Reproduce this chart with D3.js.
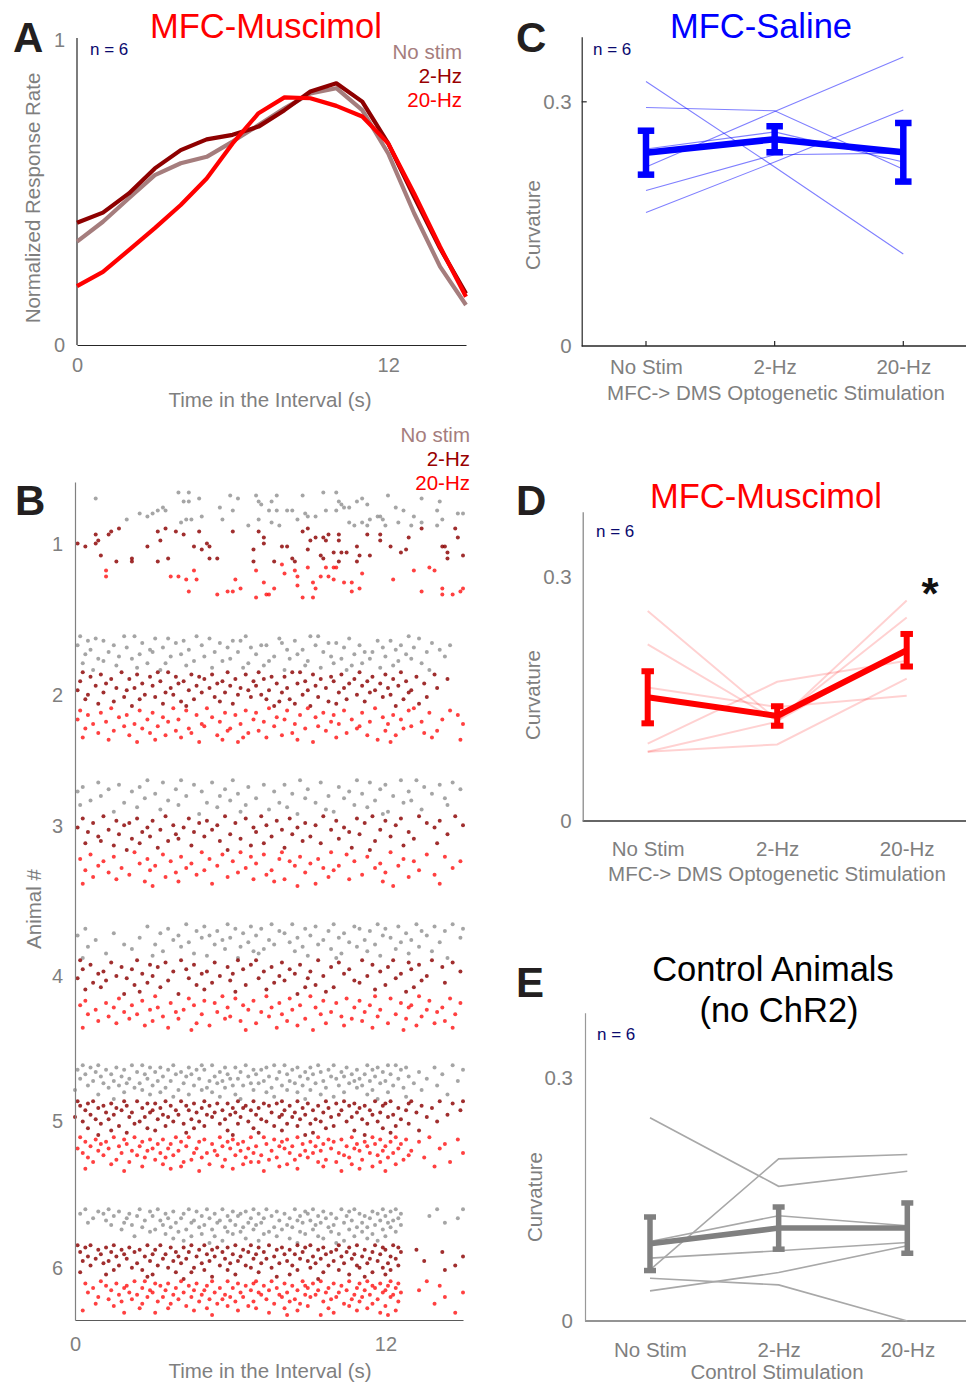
<!DOCTYPE html>
<html><head><meta charset="utf-8">
<script src="https://cdn.jsdelivr.net/npm/d3@7"></script>
<style>
body{margin:0;background:#fff}
svg{display:block}
text{font-family:"Liberation Sans",Arial,Helvetica,sans-serif}
</style>
</head><body>
<svg id="c" width="967" height="1384"></svg>
<script>
// ---------------- DATA ----------------
// Panel A: normalized response rate per 1-s bin
const timeBins = [0,1,2,3,4,5,6,7,8,9,10,11,12,13,14,15];
const rateNoStim = [0.339,0.404,0.481,0.557,0.596,0.617,0.667,0.721,0.776,0.825,0.842,0.770,0.628,0.432,0.257,0.131];
const rate2Hz    = [0.401,0.434,0.497,0.579,0.639,0.674,0.689,0.716,0.770,0.831,0.858,0.798,0.661,0.486,0.317,0.169];
const rate20Hz   = [0.193,0.240,0.311,0.383,0.459,0.546,0.661,0.760,0.812,0.809,0.784,0.749,0.661,0.497,0.322,0.158];
const legendLabels = ["No stim","2-Hz","20-Hz"];
const timeTicks = [0,12];

// Panels C-E: curvature
const conditions = ["No Stim","2-Hz","20-Hz"];
const curvTicks = [0,0.3];
const salineIndiv = [
  [0.325,0.220,0.113],
  [0.293,0.289,0.217],
  [0.220,0.288,0.355],
  [0.242,0.263,0.226],
  [0.191,0.235,0.237],
  [0.164,0.226,0.290]];
const salineMean = [0.2375,0.254,0.238];
const salineSem  = [0.027,0.016,0.036];

const muscimolIndiv = [
  [0.258,0.124,0.250],
  [0.217,0.123,0.212],
  [0.164,0.140,0.154],
  [0.095,0.171,0.197],
  [0.085,0.094,0.175],
  [0.085,0.122,0.271]];
const muscimolMean = [0.152,0.129,0.2098];
const muscimolSem  = [0.032,0.012,0.020];

const controlIndiv = [
  [0.2505,0.166,0.1846],
  [0.063,0.1998,0.2052],
  [0.098,0.1298,0.1174],
  [0.0775,0.0865,0.0968],
  [0.0371,0.0597,0.0927],
  [0.0527,0.0445,0.0]];
const controlMean = [0.0952,0.1145,0.1145];
const controlSem  = [0.033,0.026,0.031];

// Panel B: raster. Row units; each animal block = 3 conditions x 12 row units
const animalLabels = ["1","2","3","4","5","6"];
const animalLabelRow = [20.7,71,114.7,164.7,213,262];
const animalRowOffset = [3,51,99,147,194,242];
const rowsPerCondition = 12;
const totalRows = 279.33;

// response times (s) per animal, per trial
const rasterNoStim = [
 [[4.0,4.4,9.6,10.1],[6.0,7.0,7.8,8.8,12.1],[0.8,4.8,6.3,11.1,13.4],[4.2,4.4,7.1,7.6,10.2,10.9,14.1],[7.2,10.3,11.3],[3.4,5.6,10.4,10.6,12.4],[3.2,3.5,6.1,7.5,7.8,8.2,8.4,9.7,10.1,12.7,14.0],[2.5,3.0,8.9,14.8,15.0],[2.8,4.9,9.0,9.3,11.7,11.8,13.1],[2.0,4.3,4.5,5.7,7.1,8.6,11.4,11.9,14.2],[4.1,7.6,10.6,11.1,12.5,13.4],[6.7,7.9,10.8,11.3,12.0,13.0,14.0]],
 [[0.2,1.9,2.3,4.7,6.6,9.1,9.4,12.9],[0.8,3.1,3.6,5.2,7.9,10.6,13.3],[0.5,1.1,4.2,6.1,6.4,8.5,11.7,12.2],[2.6,3.9,5.6,8.0,9.8,10.1,13.8],[0.1,1.5,4.9,7.2,7.4,9.3,11.0,12.6,14.5],[2.0,3.4,5.9,6.8,10.4,11.9,13.1],[0.6,2.9,4.4,8.2,8.8,12.4,14.1],[1.3,3.0,5.4,6.3,9.6,11.2,11.5,13.6],[0.4,2.5,4.1,7.0,8.6,10.8,12.8],[1.7,3.7,5.0,7.7,9.9,12.0,14.3],[0.9,2.2,6.0,8.3,10.3,11.4,13.0],[1.1,4.6,5.7,7.5,9.0,12.5],[0.3,2.8,3.5,6.7,10.0,11.1,13.4],[1.6,4.3,7.3,8.9,10.7,12.3],[2.4,5.3,6.5,9.5,11.8],[0.7,3.3,8.1,10.5,13.7]],
 [[2.8,4.1,6.1,8.7,10.9,12.6,13.2],[0.9,3.4,5.3,9.5,11.4,14.6],[1.7,4.6,7.3,8.1,12.0,14.1],[0.3,2.5,6.7,10.2,13.5],[1.3,3.9,5.8,9.0,11.8,14.9],[0.1,2.2,4.9,7.7,10.6,12.9],[3.1,6.3,8.4,11.1,13.8],[1.0,4.3,5.6,9.8,12.3],[2.7,7.0,8.9,10.4,14.3],[0.6,3.6,6.0,11.6,13.0],[1.9,5.1,7.9,9.3,12.7],[0.2,4.0,6.6,10.8,14.4],[2.4,5.5,8.2,11.3],[3.3,7.5,9.7,13.4],[1.5,6.4,10.0,12.1],[4.8,8.6,11.9]],
 [[4.3,5.9,7.6,8.4,10.0,11.7,13.2,14.6],[2.8,5.0,6.8,9.3,10.8,12.5,13.9],[0.4,3.6,6.2,7.2,8.9,11.0,12.0,15.0],[4.7,5.5,7.9,9.8,11.4,13.4,14.3],[1.5,3.3,6.5,8.1,10.4,12.8],[0.1,4.0,5.2,7.0,9.1,11.9,13.6],[2.5,4.9,6.0,8.6,10.2,12.2,14.9],[0.8,3.8,5.7,7.5,9.6,11.2,13.0],[4.4,6.7,8.3,10.6,12.6,14.1],[1.9,3.1,5.4,7.7,9.4,11.6],[0.5,4.1,6.4,8.8,10.9,13.3],[2.2,5.8,7.3,9.9,12.4],[3.4,6.9,8.5,11.3,13.8],[1.2,4.6,7.1,10.3,12.9],[3.0,5.1,9.0,11.8],[0.3,6.3,10.1,14.4]],
 [[0.3,0.9,2.2,2.6,3.8,4.9,5.3,6.6,7.7,8.1,9.4,10.0,11.3,12.1,12.4,14.6],[0.6,1.6,2.9,3.3,4.4,5.8,6.2,7.4,8.6,9.1,10.5,11.7,12.8,13.9],[0.1,1.2,1.9,3.6,4.7,5.0,6.9,7.2,8.4,9.8,10.9,11.5,12.6,15.0],[0.8,2.4,3.1,4.1,5.6,6.4,7.9,8.9,9.5,10.3,11.9,13.3],[0.4,1.4,2.7,3.9,4.5,5.9,7.0,8.2,9.2,10.7,11.2,12.2,14.2],[1.0,1.8,3.4,4.3,5.4,6.7,7.5,8.7,9.9,10.4,11.6,12.9],[0.2,2.1,2.8,4.8,6.0,6.3,7.8,9.0,10.1,11.0,12.5,13.6],[0.7,1.5,3.2,3.7,5.2,5.7,7.3,8.3,9.6,10.8,11.4,12.0,14.8],[1.1,2.0,2.5,4.2,5.5,6.8,7.1,8.5,9.3,10.6,11.8,13.1],[0.5,1.7,3.0,4.6,6.1,6.5,8.0,8.8,10.2,11.1,12.3,14.0],[1.3,2.3,3.5,5.1,5.8,7.6,9.7,10.9,12.7],[0.0,2.6,4.0,4.9,6.9,8.2,9.1,11.5,13.4],[1.9,3.3,5.3,7.4,8.6,10.4,12.1],[0.9,2.9,4.4,6.2,9.5,11.3,14.4],[3.8,5.6,7.7,10.0,12.8],[1.5,6.4,8.9,11.7]],
 [[0.4,1.3,2.5,3.2,4.4,5.1,5.7,6.9,7.4,8.5,9.2,10.3,10.8,11.9,12.4,14.0,15.0],[0.9,1.7,2.9,3.8,4.7,6.1,6.6,7.8,8.9,9.6,10.6,11.5,12.2],[0.2,1.1,2.1,3.5,4.2,5.4,6.4,7.1,8.1,9.0,9.9,11.0,11.7,12.6],[1.5,2.4,3.0,4.9,5.9,6.3,7.6,8.7,9.4,10.5,11.2,12.0,13.7],[0.7,2.0,3.6,4.1,5.2,6.8,7.3,8.3,9.7,10.1,11.4,12.5,14.8],[1.2,2.7,3.3,4.6,5.6,6.0,7.9,8.6,9.1,10.7,11.8,12.3],[0.5,1.9,3.9,4.5,5.5,6.7,7.2,8.8,9.5,10.4,11.1,12.1,14.3],[1.4,2.2,3.4,5.0,6.2,7.0,8.2,9.3,10.0,11.6,12.6],[2.6,3.7,4.8,5.8,6.5,7.7,8.4,9.8,10.9,11.3,12.2],[1.8,3.1,4.3,5.3,6.9,8.0,9.2,10.6,11.9],[2.9,4.0,5.9,6.4,7.5,8.7,9.9,11.1,12.4],[3.5,4.9,6.1,7.3,8.9,10.2,11.5],[2.3,4.5,5.4,7.8,9.4,10.8,12.0],[3.8,6.6,8.3,9.6,11.3],[4.2,5.7,7.1,10.4,11.7],[5.2,8.6,10.1]]
];
const raster2Hz = [
 [[1.7,3.5,9.0,13.4,14.7],[1.4,3.2,3.9,4.8,6.1,7.1,8.8],[0.8,1.3,4.2,9.8,10.2,11.3,11.8],[7.3,9.3,9.6,12.9,14.8],[0.9,3.3,9.1,9.7,10.2,11.8],[0.1,0.8,5.1,7.3],[0.4,2.8,4.6,5.2,8.0,8.2,10.9,12.2,14.2,14.3],[4.9,6.9,9.0,12.8],[10.0,10.3,10.5,12.6,14.4],[1.0,9.5,11.0,11.4,15.0],[2.2,3.6,5.2,5.5,8.4,9.6,14.4],[1.6,2.2,3.2,6.9,7.7,8.5,10.2,10.9]],
 [[0.3,1.8,3.2,3.6,5.9,7.1,8.4,8.7,11.0,12.6],[1.0,2.4,4.5,5.3,6.6,9.2,10.3,12.0,13.9],[0.6,2.9,3.9,4.8,7.6,8.1,9.9,11.5,13.2],[1.4,2.1,5.0,6.2,7.3,9.5,10.8,12.3,14.4],[0.2,3.3,4.2,5.7,6.9,8.9,10.0,11.3,12.8],[1.2,2.6,4.0,5.5,7.8,8.6,10.6,11.8,13.5],[0.8,3.0,4.7,6.0,7.0,9.3,11.1,12.5],[1.6,2.3,3.7,5.2,6.4,8.2,9.7,10.4,12.1,14.0],[0.1,2.0,4.4,6.7,7.5,9.0,11.6,13.0],[1.1,3.5,4.9,5.8,8.0,10.2,11.4,12.9],[0.5,2.7,3.8,6.3,7.2,8.8,10.9,12.2],[1.9,3.1,5.4,6.8,9.4,11.9,13.6],[0.4,2.5,4.6,7.4,8.3,10.5,12.7],[1.5,4.1,5.6,7.9,9.8,11.2],[0.9,3.4,6.1,8.5,10.1,13.3],[2.2,4.3,7.7,9.1,12.4]],
 [[1.1,3.5,5.8,7.2,9.6,11.5,13.3,14.7],[0.3,2.4,4.4,6.6,8.3,10.9,12.6],[1.6,3.0,5.1,7.8,10.1,12.0,14.1],[0.7,2.1,4.8,6.2,8.9,11.2,13.6],[1.9,3.8,5.5,7.4,9.3,12.4,15.0],[0.1,2.8,4.2,6.9,8.6,10.4,13.9],[1.3,3.3,5.3,8.0,9.9,11.8],[0.5,2.6,4.6,7.0,10.6,12.9],[1.7,3.9,6.0,8.4,11.0,14.4],[0.9,2.9,5.0,7.6,9.1,12.2],[2.2,4.0,6.4,10.2,13.1],[1.0,3.6,5.6,8.8,11.6],[0.4,2.5,7.3,9.5,14.0],[1.5,4.5,6.8,12.7],[3.2,8.1,10.7],[2.0,5.9,11.4]],
 [[0.2,2.4,4.1,6.3,7.0,9.4,11.1,12.3,13.8],[1.4,3.5,5.4,8.0,10.2,12.9,14.6],[0.6,2.9,4.6,6.8,8.7,11.5,13.3],[1.8,3.2,5.9,7.6,9.9,12.1,14.2],[0.3,2.2,4.3,6.5,8.3,10.6,13.0],[1.1,3.8,5.1,7.3,9.1,11.8,14.9],[0.9,2.6,4.9,6.1,8.5,10.4,12.6],[1.6,3.0,5.6,7.9,9.6,11.3,13.6],[0.1,2.0,4.4,7.1,9.0,12.4],[1.2,3.6,6.0,8.1,10.8,13.4],[0.7,2.8,5.3,7.7,11.0,14.3],[2.3,4.7,6.6,9.3,12.0],[1.0,3.3,8.9,10.0,13.1],[0.4,5.0,7.4,11.6],[2.5,6.2,9.7,12.8],[1.9,4.0,8.6]],
 [[0.1,0.7,1.9,2.4,3.5,4.1,5.0,6.3,6.9,8.0,8.6,9.7,10.4,11.6,12.2,13.0,14.1,15.0],[0.5,1.4,2.8,3.1,4.6,5.5,5.9,7.3,7.8,9.0,10.1,10.8,12.0,12.9,14.6],[0.2,1.1,2.0,3.7,4.3,5.2,6.6,7.5,8.3,9.4,10.6,11.2,11.9,13.4],[0.9,1.6,2.6,3.3,4.9,6.1,6.5,7.1,8.8,9.8,11.0,12.5,13.8],[0.4,1.8,3.0,3.9,4.4,5.7,6.8,8.1,9.2,10.3,11.4,12.8,14.9],[1.2,2.2,2.9,4.7,5.4,6.2,7.6,8.5,9.6,10.9,11.8,13.2],[0.6,1.5,3.4,4.0,5.1,6.0,7.0,8.0,8.9,10.2,11.5,12.3,14.4],[0.0,2.1,2.7,3.6,5.3,6.4,7.9,8.4,9.9,10.7,12.1,13.6],[0.8,1.3,3.2,4.5,5.8,7.2,8.7,9.3,11.1,12.6],[0.3,2.5,3.8,4.8,6.7,7.4,9.5,10.5,11.7,14.0],[1.0,2.3,4.2,5.6,6.3,8.2,9.1,11.3,12.9],[1.7,3.5,5.0,7.7,8.6,10.0,12.4],[0.5,2.8,4.6,6.9,9.7,11.9],[1.4,3.1,5.9,8.0,10.8,13.3],[2.0,4.3,7.1,9.2,12.2],[0.9,6.1,8.9,11.2]],
 [[0.1,0.6,1.5,2.8,3.3,4.5,5.0,6.2,6.8,7.5,8.6,9.1,10.2,10.9,11.6,12.3],[0.4,1.2,2.1,3.7,4.2,5.5,5.9,7.1,8.0,8.9,9.6,10.6,11.9,12.5],[0.9,1.8,2.5,3.1,4.8,5.3,6.5,7.8,8.3,9.4,10.1,11.2,12.0,13.2],[0.2,1.4,2.3,3.9,4.4,5.7,6.7,7.3,8.8,9.9,10.5,11.5,12.6,14.2],[1.0,1.9,3.0,3.5,5.1,6.1,7.0,8.1,8.5,9.7,10.8,11.8],[0.5,1.6,2.7,4.0,4.7,5.4,6.4,7.7,9.2,10.3,11.1,12.2,15.0],[0.8,2.0,3.4,4.3,5.8,6.9,7.4,8.7,9.5,10.7,11.4,12.4],[0.3,1.3,2.9,3.8,5.2,6.3,8.2,9.0,10.0,11.7,13.5],[1.1,2.4,4.1,4.9,6.0,7.2,7.9,9.3,10.4,11.3,12.1],[0.6,1.7,3.2,5.6,6.6,8.4,9.8,10.9,12.5,14.7],[2.2,3.6,4.6,6.8,7.6,9.1,11.0,11.9],[1.5,2.6,5.0,5.9,8.6,10.2,12.2,14.3],[0.2,3.9,4.5,7.1,9.6,11.5],[1.2,3.0,6.2,8.3,10.6,12.0],[2.8,5.3,7.8,11.2],[4.2,9.4]]
];
const raster20Hz = [
 [[8.0],[9.0,9.7,10.0,10.1,13.7],[1.2,4.6,7.0,8.5,13.1,13.9],[8.1,11.1],[1.2,3.7,4.0,8.6,9.5,9.8],[4.3,4.7,6.2,10.0,12.3],[7.3,9.2,10.4,10.7],[8.6],[6.4,7.7,9.3,11.0,14.2,15.0],[4.4,5.9,6.1,10.7,13.4,14.9],[5.5,7.4,7.5,14.2,14.6],[7.0,8.8,9.2]],
 [[1.4,3.8,5.1,7.5,9.0,11.6,13.1],[0.2,2.5,4.3,6.6,8.2,10.4,12.9,14.5],[1.0,3.0,5.8,7.0,9.6,11.1,13.7],[0.5,2.0,4.7,6.2,8.7,10.0,12.3,14.8],[1.7,3.4,5.3,7.8,9.3,11.9],[0.1,2.8,4.0,6.9,8.1,10.7,12.6,14.2],[1.2,3.6,5.6,7.3,9.9,11.4,13.4],[0.7,2.3,4.9,6.4,8.5,10.2,12.1,15.0],[1.9,3.2,5.0,7.7,9.4,11.0,13.0],[0.4,2.6,4.4,6.0,8.9,10.9,12.7],[1.5,3.9,5.9,7.1,9.7,12.0,14.0],[0.9,2.9,4.5,6.7,8.4,10.5,13.5],[2.1,3.5,5.5,8.0,11.3,12.4],[0.3,4.1,6.5,7.4,10.1,13.8],[1.3,3.1,5.7,8.6,11.7,14.9],[2.4,4.8,6.3,9.2,12.2]],
 [[2.3,4.9,6.4,8.0,9.9,12.2],[0.6,3.4,5.7,7.3,10.5,13.6],[1.5,4.1,6.8,8.7,11.3,14.3],[0.2,2.8,5.2,7.9,9.4,12.7],[1.1,3.7,6.1,8.3,10.8,13.1,14.9],[2.5,4.5,7.0,9.1,11.8],[0.9,3.1,5.5,8.5,10.2,12.5],[1.8,4.3,6.6,9.6,11.6,14.6],[0.4,2.9,5.0,7.6,10.0,13.3],[1.3,3.9,6.3,8.9,12.0],[2.1,4.7,7.4,11.1,13.9],[0.7,3.5,5.9,9.8,12.9],[1.6,6.9,8.1,10.6],[2.7,4.0,7.7,11.9],[0.3,5.3,9.3,14.1],[3.0,8.6,12.3]],
 [[3.1,5.7,7.4,9.1,11.6,13.3],[1.7,4.4,6.2,8.3,10.5,12.2,14.5],[0.4,2.6,5.0,6.9,9.6,11.0,13.7],[1.2,3.7,5.4,7.9,10.1,12.6,14.9],[0.2,2.2,4.6,6.5,8.7,11.4,13.0],[1.5,3.2,5.9,7.6,9.3,10.8,12.9,14.2],[0.8,2.9,4.2,6.7,8.4,11.8,13.6],[1.9,3.9,5.5,7.2,9.9,11.2,14.0],[0.5,2.4,4.9,8.0,9.5,12.4,14.7],[1.3,3.4,6.0,7.5,10.3,11.7,13.4],[2.1,4.0,5.8,8.9,10.7,12.8],[0.9,3.0,6.4,8.2,11.1,14.3],[1.6,4.7,7.0,9.7,12.1,13.9],[2.7,5.2,8.6,10.4,13.2],[0.3,3.6,7.8,11.5,14.6],[4.5,6.6,9.2,12.7]],
 [[0.2,1.5,2.3,3.9,4.4,5.6,6.8,7.3,8.6,9.4,10.7,11.5,12.4,13.7],[0.8,1.9,2.9,3.4,5.0,6.1,7.7,8.2,9.8,10.3,11.8,12.8,14.8],[0.4,1.2,2.6,4.1,4.8,5.9,6.5,8.0,9.1,10.0,11.2,12.2,13.3],[1.0,2.0,3.2,3.7,5.3,6.3,7.4,8.8,9.6,10.9,11.6,12.6,14.3],[0.6,1.7,2.5,4.3,5.7,7.0,7.9,8.4,9.3,10.5,11.3,12.0],[0.1,1.3,3.0,3.6,4.7,6.0,6.7,8.1,9.9,10.8,12.5,14.1],[0.9,2.2,2.8,4.0,5.4,6.4,7.6,8.9,9.5,11.0,11.9,13.0],[0.3,1.8,3.3,4.6,5.1,6.9,8.3,9.2,10.2,11.4,12.3,15.0],[1.1,2.4,3.8,5.5,6.2,7.2,8.7,10.4,11.7,12.9],[0.5,2.7,3.5,4.9,6.6,7.8,9.0,10.6,12.1,13.5],[1.6,3.1,4.5,5.8,7.5,8.5,9.7,11.1,12.7],[0.7,2.1,4.2,6.8,7.1,9.4,10.1,11.8,14.5],[1.4,3.4,5.2,6.5,8.2,10.7,12.4],[2.6,4.1,5.7,7.9,9.6,11.5,13.9],[0.4,3.7,6.1,8.6,11.0],[1.9,4.8,7.3,10.3,12.0]],
 [[1.0,2.3,2.7,4.1,5.3,5.9,7.0,7.6,8.8,9.5,10.6,11.3,12.2,13.6],[0.4,1.6,3.1,3.6,4.7,6.3,6.9,8.1,9.2,10.0,11.0,11.8,12.5],[1.2,2.0,3.3,4.4,5.1,6.6,7.3,8.4,8.9,10.3,11.5,12.1,14.1],[0.7,1.9,2.6,3.9,5.6,6.1,7.8,9.0,9.8,10.9,11.6,12.4],[1.4,2.9,3.5,4.6,5.0,6.8,7.5,8.6,9.4,10.5,11.2,12.0,13.3],[0.5,2.1,3.0,4.2,5.4,6.4,7.1,8.2,9.7,10.2,11.9,12.6,15.0],[1.7,2.4,3.8,4.9,5.8,7.2,7.9,8.9,9.3,10.8,11.4,12.3],[0.9,2.8,3.4,4.5,6.0,6.5,8.0,9.1,10.1,11.1,12.2,14.3],[1.3,2.2,4.0,5.2,5.7,7.4,8.5,9.9,10.7,11.7],[1.8,3.2,4.8,6.2,6.9,8.3,9.6,11.0,12.5],[0.8,2.6,3.7,5.5,7.7,8.7,10.4,11.5,13.9],[1.5,4.3,5.9,6.7,9.0,10.6,12.0],[2.5,3.6,5.1,7.0,8.1,9.8,11.3],[0.3,4.6,6.3,8.6,10.9,12.4],[1.9,3.1,7.5,10.0,11.8,14.7],[5.3,8.2,9.5,12.1]]
];
const rasterByCondition = [rasterNoStim, raster2Hz, raster20Hz];

// ---------------- DRAW ----------------
const svg = d3.select("#c");
const TICKGRAY = "#7f7f7f";
const NAVY = "#0a0a6e";

function styleAxis(g, lineColor, fontSize) {
  g.attr("font-family", null).attr("font-size", null);
  g.select(".domain").attr("stroke", lineColor).attr("stroke-width", 1.2);
  g.selectAll(".tick line").remove();
  g.selectAll(".tick text").attr("fill", TICKGRAY).style("font-size", fontSize + "px");
}
function addText(x, y, str, opt) {
  const t = svg.append("text").attr("x", x).attr("y", y).text(str)
    .style("font-size", (opt.size || 20) + "px")
    .attr("fill", opt.color || TICKGRAY)
    .attr("text-anchor", opt.anchor || "middle");
  if (opt.weight) t.style("font-weight", opt.weight);
  return t;
}
function addVText(x, y, str, size) {
  svg.append("text").attr("transform", `translate(${x},${y}) rotate(-90)`)
    .attr("text-anchor", "middle").attr("fill", TICKGRAY)
    .style("font-size", size + "px").text(str);
}

// ===== Panel A =====
const xA = d3.scaleLinear().domain([0, 15]).range([77, 466]);
const yA = d3.scaleLinear().domain([0, 1]).range([345, 40]);
const gAx = svg.append("g").attr("transform", "translate(0,345)")
  .call(d3.axisBottom(xA).tickValues(timeTicks).tickSize(0).tickSizeOuter(0).tickPadding(13));
styleAxis(gAx, "#262626", 20);
const gAy = svg.append("g").attr("transform", "translate(77,0)")
  .call(d3.axisLeft(yA).tickValues([0, 1]).tickFormat(d3.format("d")).tickSize(0).tickSizeOuter(0).tickPadding(12));
styleAxis(gAy, "#262626", 20);
gAy.select(".domain").attr("d", `M0,${yA(0)}V38`);

const seriesA = [
  {values: rateNoStim, color: "#a57d7d"},
  {values: rate2Hz, color: "#8e0000"},
  {values: rate20Hz, color: "#ff0000"}
];
const lineA = d3.line().x((d, i) => xA(timeBins[i])).y(d => yA(d));
svg.append("g").selectAll("path").data(seriesA).join("path")
  .attr("d", d => lineA(d.values)).attr("fill", "none")
  .attr("stroke", d => d.color).attr("stroke-width", 4.2)
  .attr("stroke-linejoin", "round");
const legendColors = ["#a57d7d", "#990000", "#ff0000"];
legendLabels.forEach((l, i) => addText(462, 59 + 24 * i, l, {size: 20.5, color: legendColors[i], anchor: "end"}));
addText(90, 55, "n = 6", {size: 17, color: NAVY, anchor: "start"});
addText(266, 38, "MFC-Muscimol", {size: 34.5, color: "#ff0000"});
addVText(40, 198, "Normalized Response Rate", 20.5);
addText(270, 407, "Time in the Interval (s)", {size: 20.5});
addText(13, 52, "A", {size: 42, color: "#231f20", anchor: "start", weight: "bold"});

// ===== Panel B =====
const xB = d3.scaleLinear().domain([0, 15]).range([75, 463]);
const yB = d3.scaleLinear().domain([0, totalRows]).range([482, 1320]);
const dotColors = ["#959595", "#8b0000", "#ff1010"];
const dotOpacity = [0.85, 0.82, 0.8];
const dots = [];
rasterByCondition.forEach((byAnimal, ci) => {
  byAnimal.forEach((rows, ai) => {
    const step = rowsPerCondition / rows.length;
    rows.forEach((times, ri) => {
      times.forEach(t => dots.push({t, row: animalRowOffset[ai] + ci * rowsPerCondition + (ri + 0.5) * step, ci}));
    });
  });
});
svg.append("g").selectAll("circle").data(dots).join("circle")
  .attr("cx", d => xB(d.t)).attr("cy", d => yB(d.row)).attr("r", 2.0)
  .attr("fill", d => dotColors[d.ci]).attr("fill-opacity", d => dotOpacity[d.ci]);

const gBx = svg.append("g").attr("transform", "translate(0,1320)")
  .call(d3.axisBottom(xB).tickValues(timeTicks).tickSize(0).tickSizeOuter(0).tickPadding(17));
styleAxis(gBx, "#5a5a5a", 20);
const gBy = svg.append("g").attr("transform", "translate(75,0)")
  .call(d3.axisLeft(yB).tickValues(animalLabelRow).tickFormat((d, i) => animalLabels[i])
    .tickSize(0).tickSizeOuter(0).tickPadding(12));
styleAxis(gBy, "#808080", 20);
legendLabels.forEach((l, i) => addText(470, 442 + 24 * i, l, {size: 20.5, color: legendColors[i], anchor: "end"}));
addVText(41, 909, "Animal #", 20.5);
addText(270, 1378, "Time in the Interval (s)", {size: 20.5});
addText(15, 515, "B", {size: 42, color: "#231f20", anchor: "start", weight: "bold"});

// ===== Curvature panels =====
function curvPanel(cfg) {
  const xs = d3.scalePoint().domain(conditions).range(cfg.xr);
  const ys = d3.scaleLinear().domain([0, 0.38]).range([cfg.y0, cfg.y1]);
  svg.append("line").attr("x1", cfg.ax).attr("x2", 966).attr("y1", ys(0)).attr("y2", ys(0))
    .attr("stroke", cfg.xLineColor).attr("stroke-width", 1.3);
  const gy = svg.append("g").attr("transform", `translate(${cfg.ax},0)`)
    .call(d3.axisLeft(ys).tickValues(curvTicks).tickFormat(d => d === 0 ? "0" : "0.3")
      .tickSize(0).tickSizeOuter(0).tickPadding(cfg.yPad));
  styleAxis(gy, cfg.yLineColor, 20.5);
  const gx = svg.append("g").attr("transform", `translate(0,${ys(0)})`)
    .call(d3.axisBottom(xs).tickSize(0).tickSizeOuter(0).tickPadding(cfg.xPad));
  styleAxis(gx, "none", 20.5);
  gx.select(".domain").remove();
  if (cfg.innerTicks) {
    svg.append("g").selectAll("line").data(conditions).join("line")
      .attr("x1", d => xs(d)).attr("x2", d => xs(d)).attr("y1", ys(0)).attr("y2", ys(0) - 5)
      .attr("stroke", cfg.xLineColor).attr("stroke-width", 1.2);
    svg.append("line").attr("x1", cfg.ax).attr("x2", cfg.ax + 5).attr("y1", ys(0.3)).attr("y2", ys(0.3))
      .attr("stroke", cfg.xLineColor).attr("stroke-width", 1.2);
  }
  const line = d3.line().x((d, i) => xs(conditions[i])).y(d => ys(d));
  svg.append("g").selectAll("path").data(cfg.indiv).join("path")
    .attr("d", d => line(d)).attr("fill", "none")
    .attr("stroke", cfg.thinColor).attr("stroke-opacity", cfg.thinOpacity)
    .attr("stroke-width", cfg.thinWidth);
  svg.append("path").attr("d", line(cfg.mean)).attr("fill", "none")
    .attr("stroke", cfg.color).attr("stroke-width", cfg.meanWidth).attr("stroke-linejoin", "round");
  const eb = svg.append("g").attr("stroke", cfg.color).attr("stroke-width", cfg.ebWidth);
  cfg.mean.forEach((m, i) => {
    const x = xs(conditions[i]);
    const lo = ys(m - cfg.sem[i]), hi = ys(m + cfg.sem[i]);
    eb.append("line").attr("x1", x).attr("x2", x).attr("y1", lo).attr("y2", hi);
    [lo, hi].forEach(y => eb.append("line").attr("x1", x - cfg.cap / 2).attr("x2", x + cfg.cap / 2)
      .attr("y1", y).attr("y2", y));
  });
  return {xs, ys};
}

// C
curvPanel({xr: [646, 903.3], ax: 581.7, y0: 346, y1: 36.7, yPad: 10, xPad: 13,
  xLineColor: "#262626", yLineColor: "#262626", innerTicks: true,
  indiv: salineIndiv, mean: salineMean, sem: salineSem,
  color: "#0000ff", thinColor: "#0000ff", thinOpacity: 0.5, thinWidth: 1.1,
  meanWidth: 6.5, ebWidth: 6.5, cap: 16.5});
addText(761, 38, "MFC-Saline", {size: 34.5, color: "#0000ff"});
addText(593, 55, "n = 6", {size: 17, color: NAVY, anchor: "start"});
addVText(540, 225, "Curvature", 20.5);
addText(776, 400, "MFC-> DMS Optogenetic Stimulation", {size: 20.5});
addText(516, 52, "C", {size: 42, color: "#231f20", anchor: "start", weight: "bold"});

// D
curvPanel({xr: [647.7, 906.7], ax: 582.7, y0: 821, y1: 511.7, yPad: 11, xPad: 20,
  xLineColor: "#333333", yLineColor: "#808080", innerTicks: false,
  indiv: muscimolIndiv, mean: muscimolMean, sem: muscimolSem,
  color: "#ff0000", thinColor: "#ff0000", thinOpacity: 0.18, thinWidth: 2,
  meanWidth: 6, ebWidth: 6, cap: 12.5});
addText(766, 508, "MFC-Muscimol", {size: 34.5, color: "#ff0000"});
addText(596, 537, "n = 6", {size: 17, color: NAVY, anchor: "start"});
addVText(540, 695, "Curvature", 20.5);
addText(777, 881, "MFC-> DMS Optogenetic Stimulation", {size: 20.5});
addText(516, 515, "D", {size: 42, color: "#231f20", anchor: "start", weight: "bold"});
addText(930, 609, "*", {size: 44, color: "#111111", weight: "bold"});

// E
curvPanel({xr: [650, 907.3], ax: 585, y0: 1321, y1: 1012.7, yPad: 12, xPad: 21,
  xLineColor: "#707070", yLineColor: "#999999", innerTicks: false,
  indiv: controlIndiv, mean: controlMean, sem: controlSem,
  color: "#808080", thinColor: "#a8a8a8", thinOpacity: 1, thinWidth: 1.6,
  meanWidth: 5.5, ebWidth: 5.5, cap: 12});
addText(773, 981, "Control Animals", {size: 34.5, color: "#000000"});
addText(779, 1022, "(no ChR2)", {size: 34.5, color: "#000000"});
addText(597, 1040, "n = 6", {size: 17, color: NAVY, anchor: "start"});
addVText(542, 1197, "Curvature", 20.5);
addText(777, 1379, "Control Stimulation", {size: 20.5});
addText(516, 997, "E", {size: 42, color: "#231f20", anchor: "start", weight: "bold"});
</script>
</body></html>
